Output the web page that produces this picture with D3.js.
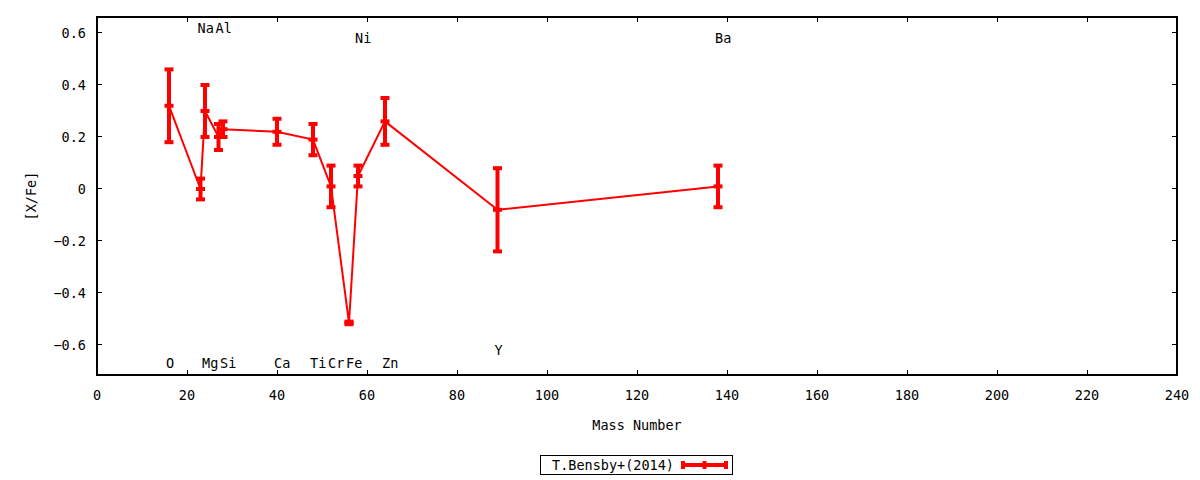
<!DOCTYPE html>
<html>
<head>
<meta charset="utf-8">
<script src="https://cdn.jsdelivr.net/npm/d3@7"></script>
<style>
  html, body { margin: 0; padding: 0; background: #fff; }
  svg { display: block; }
  text { font-family: "DejaVu Sans Mono", monospace; font-size: 13.5px; fill: #000; }
</style>
</head>
<body>
<svg id="chart" width="1200" height="480"></svg>
<script>
// ---- data ----
const elements = ["O","Na","Mg","Al","Si","Ca","Ti","Cr","Fe","Ni","Zn","Y","Ba"];
const massNumbers = [16,23,24,27,28,40,48,52,56,58,64,89,138];
const xFeValues = [0.32,0.00,0.30,0.20,0.23,0.22,0.19,0.01,-0.515,0.05,0.26,-0.08,0.01];
const xFeErrors = [0.14,0.04,0.10,0.05,0.03,0.05,0.06,0.08,0.005,0.04,0.09,0.16,0.08];
const labelYValues = [-0.67,0.62,-0.67,0.62,-0.67,-0.67,-0.67,-0.67,-0.67,0.58,-0.67,-0.62,0.58];
const xTicks = [0,20,40,60,80,100,120,140,160,180,200,220,240];
const yTicks = [-0.6,-0.4,-0.2,0,0.2,0.4,0.6];
const seriesName = "T.Bensby+(2014)";
const xTitle = "Mass Number";
const yTitle = "[X/Fe]";

// ---- layout ----
const svg = d3.select("#chart");
const pL = 97, pR = 1177, pT = 17, pB = 375;
const x = d3.scaleLinear().domain([0, 240]).range([pL, pR]);
const y = d3.scaleLinear().domain([-0.7154, 0.6615]).range([pB, pT]);
const red = "#ff0000";

const data = elements.map((e, i) => ({
  el: e, m: massNumbers[i], v: xFeValues[i], err: xFeErrors[i], ly: labelYValues[i]
}));

// frame
svg.append("rect")
  .attr("x", pL).attr("y", pT)
  .attr("width", pR - pL).attr("height", pB - pT)
  .attr("fill", "none").attr("stroke", "#000").attr("stroke-width", 1.2)
  .attr("shape-rendering", "crispEdges");

const tickLen = 5;
const gT = svg.append("g").attr("stroke", "#000").attr("stroke-width", 1).attr("shape-rendering", "crispEdges");
xTicks.forEach(t => {
  gT.append("line").attr("x1", x(t)).attr("x2", x(t)).attr("y1", pB).attr("y2", pB - tickLen);
  gT.append("line").attr("x1", x(t)).attr("x2", x(t)).attr("y1", pT).attr("y2", pT + tickLen);
});
yTicks.forEach(t => {
  gT.append("line").attr("x1", pL).attr("x2", pL + tickLen).attr("y1", y(t)).attr("y2", y(t));
  gT.append("line").attr("x1", pR).attr("x2", pR - tickLen).attr("y1", y(t)).attr("y2", y(t));
});

// tick labels
svg.append("g").selectAll("text").data(xTicks).join("text")
  .attr("x", d => x(d)).attr("y", 400)
  .attr("text-anchor", "middle")
  .text(d => d3.format("d")(d));
svg.append("g").selectAll("text").data(yTicks).join("text")
  .attr("x", 86).attr("y", d => y(d))
  .attr("dy", "0.35em")
  .attr("text-anchor", "end")
  .text(d => d === 0 ? "0" : d3.format(".1f")(d));

// axis titles
svg.append("text").attr("x", (pL + pR) / 2).attr("y", 430)
  .attr("text-anchor", "middle").text(xTitle);
svg.append("text")
  .attr("transform", `translate(36,${(pT + pB) / 2}) rotate(-90)`)
  .attr("text-anchor", "middle").text(yTitle);

// element labels
svg.append("g").selectAll("text").data(data).join("text")
  .attr("x", d => x(d.m) - 3)
  .attr("y", d => y(d.ly))
  .attr("dy", "0.35em")
  .attr("text-anchor", "start")
  .text(d => d.el);

// connecting line
const line = d3.line().x(d => x(d.m)).y(d => y(d.v));
svg.append("path").datum(data)
  .attr("d", line)
  .attr("fill", "none").attr("stroke", red).attr("stroke-width", 2);

// error bars
const capW = 4.5;
const gE = svg.append("g").attr("stroke", red).attr("fill", "none");
data.forEach(d => {
  const cx = x(d.m);
  gE.append("line").attr("x1", cx).attr("x2", cx)
    .attr("y1", y(d.v - d.err)).attr("y2", y(d.v + d.err)).attr("stroke-width", 4);
  [d.v - d.err, d.v + d.err, d.v].forEach(val => {
    gE.append("line").attr("x1", cx - capW).attr("x2", cx + capW)
      .attr("y1", y(val)).attr("y2", y(val)).attr("stroke-width", 4);
  });
});

// legend
const lg = svg.append("g");
lg.append("rect").attr("x", 540.5).attr("y", 455.5).attr("width", 192).attr("height", 19)
  .attr("fill", "none").attr("stroke", "#000").attr("stroke-width", 1).attr("shape-rendering", "crispEdges");
lg.append("text").attr("x", 674).attr("y", 465).attr("dy", "0.35em")
  .attr("text-anchor", "end").text(seriesName);
lg.append("line").attr("x1", 683).attr("x2", 726).attr("y1", 465).attr("y2", 465)
  .attr("stroke", red).attr("stroke-width", 4);
[683, 704.5, 726].forEach(px => {
  lg.append("line").attr("x1", px).attr("x2", px).attr("y1", 461).attr("y2", 469)
    .attr("stroke", red).attr("stroke-width", 4);
});
</script>
</body>
</html>
